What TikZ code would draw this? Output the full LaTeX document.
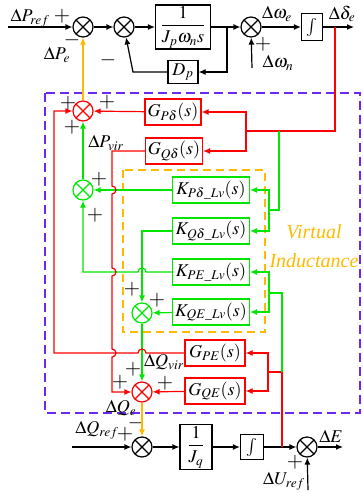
\documentclass[tikz,border=0pt]{standalone}
\usepackage{amsmath}
\usepackage{mathptmx}
\usepackage{fontspec}
\setmainfont{Liberation Serif}
\usetikzlibrary{arrows.meta}
\definecolor{vred}{RGB}{255,0,0}
\definecolor{vgreen}{RGB}{0,230,0}
\definecolor{vorange}{RGB}{255,185,0}
\definecolor{vpurple}{RGB}{110,40,240}

\begin{document}
\begin{tikzpicture}[x=1pt,y=-1pt,line width=1.2pt,>={Latex[length=7pt,width=6pt]},
  font=\fontsize{18}{20}\selectfont,inner sep=1pt,
  blk/.style={draw=#1,rectangle,minimum height=26pt,inner sep=1pt},
  blk/.default=black,
  sgn/.style={font=\fontsize{21}{22}\selectfont,inner sep=0pt},
  sumnode/.style={circle,draw=#1,minimum size=20pt,inner sep=0pt,
    path picture={\draw[#1] (path picture bounding box.north west) -- (path picture bounding box.south east)
      (path picture bounding box.south west) -- (path picture bounding box.north east);}},
  sumnode/.default=black]
\useasboundingbox (0,0) rectangle (362,493);
% ---- dashed frames ----
\draw[vpurple,dash pattern=on 9pt off 5pt] (45,93) rectangle (360,413);
\draw[vorange,dash pattern=on 8pt off 5pt] (123,170) rectangle (265,332);
\node[vorange,align=center,font=\fontsize{20}{29}\selectfont\itshape] (tVI) at (314,246) {Virtual\\Inductance};
% ---- P loop ----
\node[sumnode] (s1) at (83,27) {};
\node[sumnode] (s2) at (124,27) {};
\node[blk,minimum width=55pt,minimum height=43pt] (bJp) at (183,27) {$\dfrac{1}{J_p\omega_n s}$};
\node[sumnode] (s3) at (251,27) {};
\node[blk,minimum width=21pt,minimum height=27pt] (bI1) at (312,27) {$\int$};
\node[blk,minimum width=30pt,minimum height=23pt] (bDp) at (183,72) {$D_p$};
\coordinate (iP) at (8,27);
\coordinate (iW) at (252,68);
\coordinate (oD) at (354,27);
\coordinate (rD) at (335,27);
\coordinate (fb) at (227,27);
\coordinate (fbL) at (133,72);
\draw[->] (iP) -- (s1);
\draw[->] (s1) -- (s2);
\draw[->] (s2) -- (bJp);
\draw[->] (bJp) -- (s3);
\draw[->] (s3) -- (bI1);
\draw[->] (bI1) -- (oD);
\draw[->] (iW) -- (s3);
\draw[->] (fb) |- (bDp);
\draw[->] (bDp) -- (fbL) -- (s2);
\node (lPref) at (30,18) {$\Delta P_{ref}$};
\node[sgn] (pS1) at (62,16) {$+$};
\node[sgn] (mS1) at (72,40) {$-$};
\node (lPe) at (57,55) {$\Delta P_e$};
\node[sgn] (mS2) at (108,60) {$-$};
\node (lWe) at (277,14) {$\Delta\omega_e$};
\node (lDe) at (342,14) {$\Delta\delta_e$};
\node[sgn] (pS3) at (263,44) {$+$};
\node (lWn) at (278,63) {$\Delta\omega_n$};
% ---- virtual power blocks ----
\node[sumnode=vred] (sP) at (83,111) {};
\node[sumnode=vgreen] (sPv) at (83,190) {};
\node[sumnode=vgreen] (sQv) at (142,313) {};
\node[sumnode=vred] (sQ) at (142,392) {};
\node[blk=vred,minimum width=56pt] (GPd) at (173,112) {$G_{P\delta}(s)$};
\node[blk=vred,minimum width=57pt] (GQd) at (174,151) {$G_{Q\delta}(s)$};
\node[blk=vgreen,minimum width=77pt] (KPd) at (211,190) {$K_{P\delta\_Lv}(s)$};
\node[blk=vgreen,minimum width=77pt] (KQd) at (211,231) {$K_{Q\delta\_Lv}(s)$};
\node[blk=vgreen,minimum width=77pt] (KPE) at (211,272) {$K_{PE\_Lv}(s)$};
\node[blk=vgreen,minimum width=77pt] (KQE) at (211,312) {$K_{QE\_Lv}(s)$};
\node[blk=vred,minimum width=60pt] (GPE) at (215,353) {$G_{PE}(s)$};
\node[blk=vred,minimum width=60pt] (GQE) at (215,391) {$G_{QE}(s)$};
\coordinate (jPd) at (246,131);
\coordinate (jKd) at (269,210);
\coordinate (jE) at (268,372);
\coordinate (jKE) at (269,293);
\draw[vorange,->] (sP) -- (s1);
\draw[vred] (rD) -- (335,131) -- (jPd);
\draw[vred,->] (jPd) |- (GPd);
\draw[vred,->] (jPd) |- (GQd);
\draw[vgreen] (279,131) -- (279,210) -- (jKd);
\draw[vgreen,->] (jKd) |- (KPd);
\draw[vgreen,->] (jKd) |- (KQd);
\draw[vred,->] (GPd) -- (sP);
\draw[vgreen,->] (KPd) -- (sPv);
\draw[vgreen,->] (sPv) -- (sP);
\draw[vgreen,->] (KQd.west) -| (sQv);
\draw[vgreen,->] (KQE) -- (sQv);
\draw[vgreen,->] (sQv) -- (sQ);
\draw[vred,->] (GQE) -- (sQ);
\draw[vgreen,->] (KPE.west) -- (146,272) arc[start angle=0,end angle=-180,radius=4] -- (83,272) -- (sPv);
\draw[vred,->] (GPE.west) -- (146,353) arc[start angle=0,end angle=-180,radius=4] -- (54,353) -- (54,111) -- (sP);
\draw[vred,->] (GQd.west) -- (112,151) -- (112,186) arc[start angle=-90,end angle=90,radius=4]
  -- (112,268) arc[start angle=-90,end angle=90,radius=4]
  -- (112,349) arc[start angle=-90,end angle=90,radius=4] -- (112,392) -- (sQ);
\node[sgn] (pSPl) at (68,103) {$+$};
\node[sgn] (pSPr) at (107,102) {$+$};
\node[sgn] (pSPb) at (72,127) {$+$};
\node (lPvir) at (106,143) {$\Delta P_{vir}$};
\node[sgn] (pSPvT) at (99,179) {$+$};
\node[sgn] (pSPvB) at (95,215) {$+$};
\node[sgn] (pSQvT) at (132,289) {$+$};
\node[sgn] (pSQvR) at (157,300) {$+$};
\node (lQvir) at (164,362) {$\Delta Q_{vir}$};
\node[sgn] (pSQT) at (133,369) {$+$};
\node[sgn] (pSQL) at (120,382) {$+$};
\node[sgn] (pSQR) at (165,383) {$+$};
\node (lQe) at (121,408) {$\Delta Q_e$};
\node[sgn] (mS5) at (136,423) {$-$};
% ---- Q loop ----
\node[sumnode] (s5) at (142,447) {};
\node[blk,minimum width=32pt,minimum height=45pt] (bJq) at (196,447) {$\dfrac{1}{J_q}$};
\node[blk,minimum width=23pt,minimum height=25pt] (bI2) at (252,447) {$\int$};
\node[sumnode] (s6) at (307,447) {};
\coordinate (iQ) at (72,447);
\coordinate (oE) at (343,447);
\coordinate (iU) at (308,490);
\coordinate (rE) at (282,447);
\draw[vorange,->] (sQ) -- (s5);
\draw[->] (iQ) -- (s5);
\draw[->] (s5) -- (bJq);
\draw[->] (bJq) -- (bI2);
\draw[->] (bI2) -- (s6);
\draw[->] (s6) -- (oE);
\draw[->] (iU) -- (s6);
\draw[vred] (rE) -- (282,372) -- (jE);
\draw[vred,->] (jE) |- (GPE);
\draw[vred,->] (jE) |- (GQE);
\draw[vgreen] (282,372) -- (282,293) -- (jKE);
\draw[vgreen,->] (jKE) |- (KPE);
\draw[vgreen,->] (jKE) |- (KQE);
\node (lQref) at (97,430) {$\Delta Q_{ref}$};
\node[sgn] (pS5) at (125,434) {$+$};
\node (lE) at (331,436) {$\Delta E$};
\node[sgn] (pS6) at (295,462) {$+$};
\node (lUref) at (284,481) {$\Delta U_{ref}$};
\end{tikzpicture}
\end{document}
